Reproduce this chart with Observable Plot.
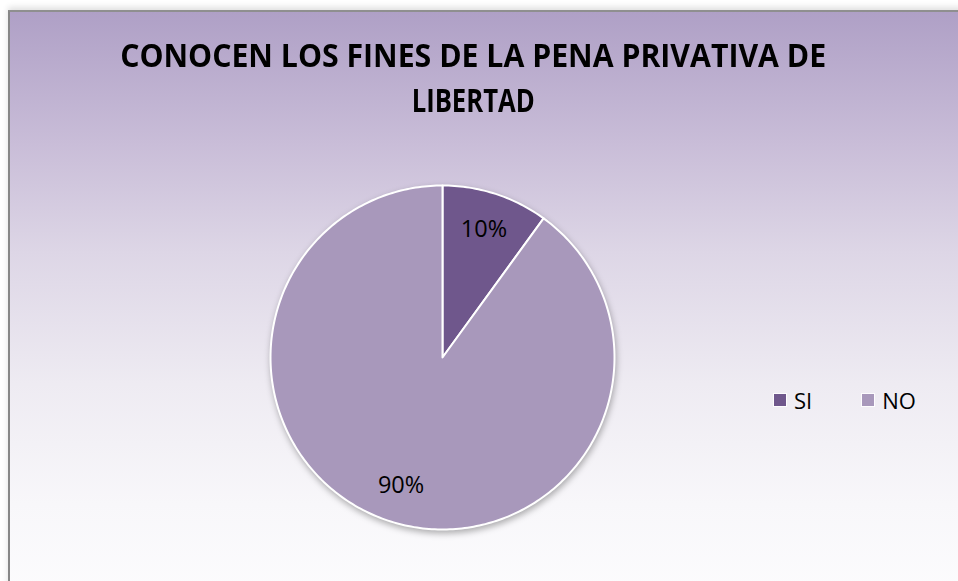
<!DOCTYPE html>
<html>
<head>
<meta charset="utf-8">
<script src="https://cdn.jsdelivr.net/npm/d3@7"></script>
<script src="https://cdn.jsdelivr.net/npm/@observablehq/plot@0.6"></script>
<style>
  html, body { margin: 0; padding: 0; background: #ffffff; width: 958px; height: 581px; overflow: hidden; }
  #wrap { position: relative; width: 958px; height: 581px; }
  #box {
    position: absolute; left: 8px; top: 10px; width: 960px; height: 600px;
    border-left: 2px solid #878787; border-top: 2px solid #8f8f8f;
    background: linear-gradient(to bottom, #afa0c6 0%, #c9bdd8 22%, #ddd6e6 40%, #eeebf2 62%, #f8f7fa 82%, #fdfdfe 100%);
    box-shadow: 0 -3px 6px rgba(0,0,0,0.12);
  }
  #chart { position: absolute; left: 0; top: 0; }
  #chart svg { background: transparent; overflow: visible; }
  .title { position: absolute; left: 0; width: 946px; text-align: center; font-family: "Open Sans", sans-serif; font-weight: 700; font-size: 33px; color: #000; white-space: nowrap; line-height: 1; }
  .title span { display: inline-block; transform-origin: center; }
  #legend { position: absolute; left: 774px; top: 385px; font-family: "Open Sans", sans-serif; font-size: 22px; color: #000; display: flex; align-items: center; }
  #legend .item { display: flex; align-items: center; }
  #legend .sw { width: 12px; height: 12px; margin-right: 8px; box-shadow: 0 0 0 1px rgba(255,255,255,0.85); }
  #chart g[aria-label="line"] { filter: drop-shadow(1px 3px 3px rgba(0,0,0,0.3)); }
</style>
</head>
<body>
<div id="wrap">
  <div id="box"></div>
  <div id="chart"></div>
  <div class="title" id="t1" style="top:38px"><span></span></div>
  <div class="title" id="t2" style="top:83px"><span></span></div>
  <div id="legend"></div>
</div>
<script>
const titleLines = ["CONOCEN LOS FINES DE LA PENA PRIVATIVA DE", "LIBERTAD"];
const categories = ["SI", "NO"];
const values = [10, 90];
const labels = ["10%", "90%"];
const colors = ["#6f578c", "#a898bb"];

// pie angles via d3.pie (clockwise from 12 o'clock)
const arcs = d3.pie().sort(null).value(d => d.value)(categories.map((c, i) => ({cat: c, value: values[i], label: labels[i]})));

const pts = [];
for (const a of arcs) {
  const n = Math.max(2, Math.ceil((a.endAngle - a.startAngle) / (Math.PI / 180)));
  pts.push({cat: a.data.cat, x: 0, y: 0});
  for (let k = 0; k <= n; k++) {
    const t = a.startAngle + (a.endAngle - a.startAngle) * k / n;
    pts.push({cat: a.data.cat, x: Math.sin(t), y: Math.cos(t)});
  }
}
const lab = arcs.map(a => {
  const m = (a.startAngle + a.endAngle) / 2;
  return {text: a.data.label, x: 0.78 * Math.sin(m), y: 0.78 * Math.cos(m)};
});

const plot = Plot.plot({
  width: 958,
  height: 581,
  margin: 0,
  style: {background: "transparent", overflow: "visible"},
  x: {domain: [-1, 1], range: [270, 614], axis: null},
  y: {domain: [-1, 1], range: [529, 185], axis: null},
  color: {domain: categories, range: colors},
  marks: [
    Plot.line(pts, {x: "x", y: "y", z: "cat", fill: "cat", stroke: "white", strokeWidth: 2, curve: "linear-closed", strokeLinejoin: "round"}),
    Plot.text(lab, {x: "x", y: "y", text: "text", fontSize: 23.5, fontFamily: "Open Sans", fill: "#000"})
  ]
});
document.getElementById("chart").appendChild(plot);

// title
const ctx = document.createElement("canvas").getContext("2d");
ctx.font = '700 33px "Open Sans"';
const targetW = [706, 123];
titleLines.forEach((t, i) => {
  const sp = document.querySelector("#t" + (i + 1) + " span");
  sp.textContent = t;
  const w = ctx.measureText(t).width;
  sp.style.transform = `scaleX(${targetW[i] / w})`;
});

// legend
const lg = document.getElementById("legend");
categories.forEach((c, i) => {
  const it = document.createElement("div");
  it.className = "item";
  it.style.marginRight = i === 0 ? "50px" : "0";
  const sw = document.createElement("div");
  sw.className = "sw";
  sw.style.background = colors[i];
  const tx = document.createElement("span");
  tx.textContent = c;
  it.appendChild(sw); it.appendChild(tx);
  lg.appendChild(it);
});
</script>
</body>
</html>
